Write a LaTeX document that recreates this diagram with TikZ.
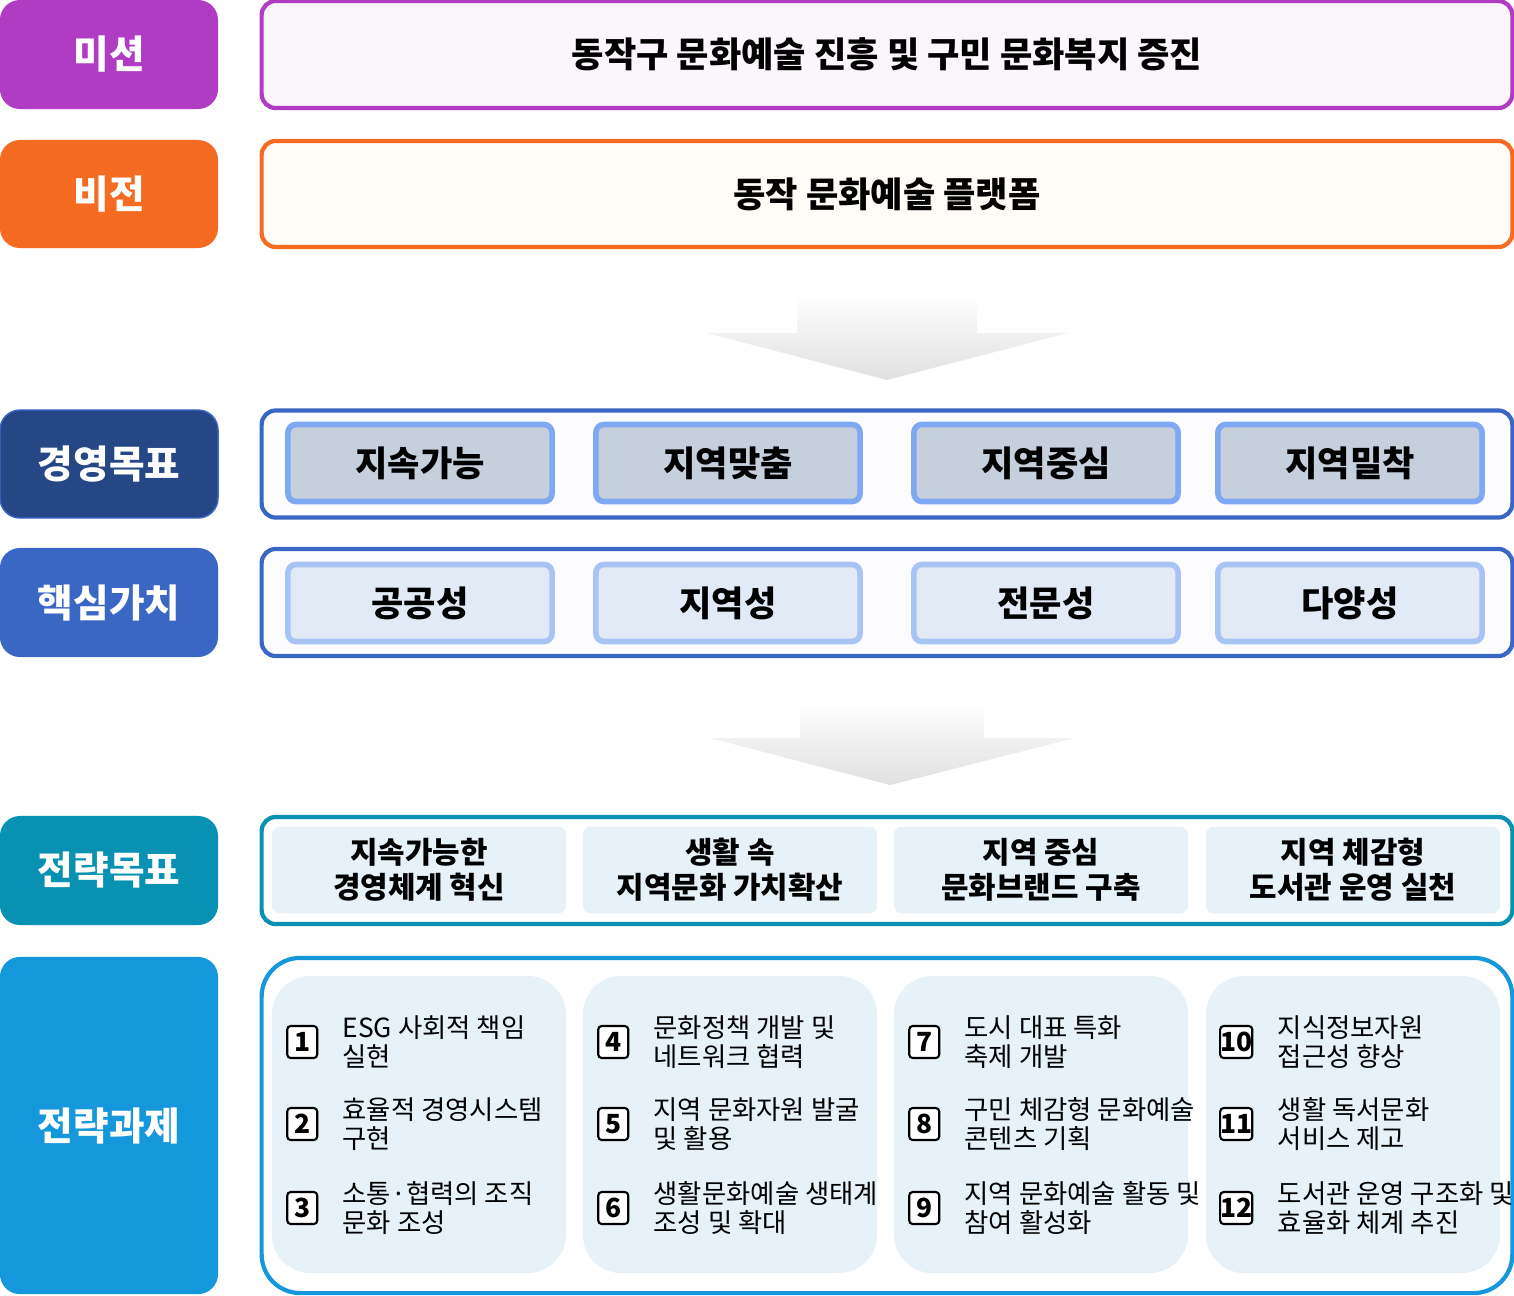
\documentclass[tikz,border=0pt]{standalone}
\usepackage{fontspec}
\setmainfont{Noto Sans CJK KR}
\usetikzlibrary{positioning}
\definecolor{missionC}{HTML}{B03CC4}
\definecolor{visionC}{HTML}{F46B21}
\definecolor{goalC}{HTML}{264785}
\definecolor{valueC}{HTML}{3A67C4}
\definecolor{stratC}{HTML}{0891B2}
\definecolor{taskC}{HTML}{1597DC}
\definecolor{taskbg}{HTML}{E6F1F8}
\definecolor{pgoal}{HTML}{C6D0DD}
\definecolor{pvalue}{HTML}{E2EAF6}
\definecolor{pgoalline}{HTML}{7FA8F2}
\definecolor{pvalueline}{HTML}{A8C4F4}
\tikzset{
  lab/.style={rounded corners=5.7pt, minimum width=2.18cm, text=white, font=\fontsize{11}{13}\selectfont\bfseries, inner sep=0pt},
  frame/.style={rounded corners=4pt, line width=1.2pt, minimum width=12.5cm, inner sep=0pt, font=\fontsize{10}{12}\selectfont\bfseries},
  pill/.style={rounded corners=2.3pt, line width=1.6pt, minimum width=2.64cm, minimum height=0.77cm, font=\fontsize{10}{12}\selectfont\bfseries},
  sgoal/.style={rounded corners=2.3pt, fill=taskbg, minimum width=2.94cm, minimum height=0.76cm, align=center, font=\fontsize{8.5}{10}\selectfont\bfseries},
  tcol/.style={rounded corners=11pt, fill=taskbg, minimum width=2.94cm, minimum height=2.97cm},
  num/.style={draw=black, rounded corners=1pt, line width=0.6pt, minimum width=0.3cm, minimum height=0.32cm, inner sep=0pt, font=\fontsize{7.5}{8}\selectfont\bfseries},
  task/.style={anchor=west, align=left, font=\fontsize{7.5}{8.2}\selectfont},
}
\begin{document}
\begin{tikzpicture}[x=0.01cm,y=-0.01cm]
\useasboundingbox (0,0) rectangle (1514,1296);
% linke Spalte
\node[lab, fill=missionC, minimum height=1.09cm] (lmission) at (109,54.5) {미션};
\node[lab, fill=visionC, minimum height=1.08cm] (lvision) at (109,194) {비전};
\node[lab, fill=goalC, draw=valueC, minimum height=1.08cm] (lgoal) at (109,464) {경영목표};
\node[lab, fill=valueC, minimum height=1.09cm] (lvalue) at (109,602.5) {핵심가치};
\node[lab, fill=stratC, minimum height=1.09cm] (lstrat) at (109,870.5) {전략목표};
\node[lab, fill=taskC, minimum height=3.37cm] (ltask) at (109,1125.5) {전략과제};
% rechte Rahmen
\node[frame, draw=missionC, fill=missionC!5, minimum height=1.07cm] (fmission) at (887,54.5) {동작구 문화예술 진흥 및 구민 문화복지 증진};
\node[frame, draw=visionC, fill=orange!3, minimum height=1.06cm] (fvision) at (887,194) {동작 문화예술 플랫폼};
\node[frame, draw=valueC, fill=blue!1, minimum height=1.07cm] (fgoal) at (887,464) {};
\node[frame, draw=valueC, fill=blue!1, minimum height=1.07cm] (fvalue) at (887,602.5) {};
\node[frame, draw=stratC, fill=white, minimum height=1.07cm] (fstrat) at (887,870.5) {};
\node[frame, draw=taskC, fill=white, minimum height=3.35cm, rounded corners=11pt] (ftask) at (887,1125.5) {};
% Pfeile
\shade[top color=white, bottom color=black!12] (797,293) -- (977,293) -- (977,333) -- (1068,333) -- (887,380) -- (707,333) -- (797,333) -- cycle;
\shade[top color=white, bottom color=black!12] (800,700) -- (984,700) -- (984,738) -- (1075,738) -- (890,785) -- (710,738) -- (800,738) -- cycle;
% Ziele und Werte
\foreach \x/\g/\v [count=\i] in {420/지속가능/공공성, 728/지역맞춤/지역성, 1046/지역중심/전문성, 1350/지역밀착/다양성}{
  \node[pill, draw=pgoalline, fill=pgoal] (goal\i) at (\x,463) {\g};
  \node[pill, draw=pvalueline, fill=pvalue] (value\i) at (\x,603) {\v};
}
% Strategieziele und Aufgaben
\foreach \x/\s [count=\i] in {419/{지속가능한\\경영체계 혁신}, 730/{생활 속\\지역문화 가치확산}, 1041/{지역 중심\\문화브랜드 구축}, 1353/{지역 체감형\\도서관 운영 실천}}{
  \node[sgoal] (sgoal\i) at (\x,870) {\s};
  \node[tcol] (tcol\i) at (\x,1124.5) {};
}
\foreach \n/\c/\y/\t in {
  1/1/1042/{ESG 사회적 책임\\실현}, 2/1/1124/{효율적 경영시스템\\구현}, 3/1/1208/{소통·협력의 조직\\문화 조성},
  4/2/1042/{문화정책 개발 및\\네트워크 협력}, 5/2/1124/{지역 문화자원 발굴\\및 활용}, 6/2/1208/{생활문화예술 생태계\\조성 및 확대},
  7/3/1042/{도시 대표 특화\\축제 개발}, 8/3/1124/{구민 체감형 문화예술\\콘텐츠 기획}, 9/3/1208/{지역 문화예술 활동 및\\참여 활성화},
  10/4/1042/{지식정보자원\\접근성 향상}, 11/4/1124/{생활 독서문화\\서비스 제고}, 12/4/1208/{도서관 운영 구조화 및\\효율화 체계 추진}}{
  \node[num, fill=white] (num\n) at ([xshift=0.31cm]tcol\c.west |- 0,\y) {\n};
  \node[task, right=0.12cm of num\n] (task\n) {\t};
}
\end{tikzpicture}
\end{document}
